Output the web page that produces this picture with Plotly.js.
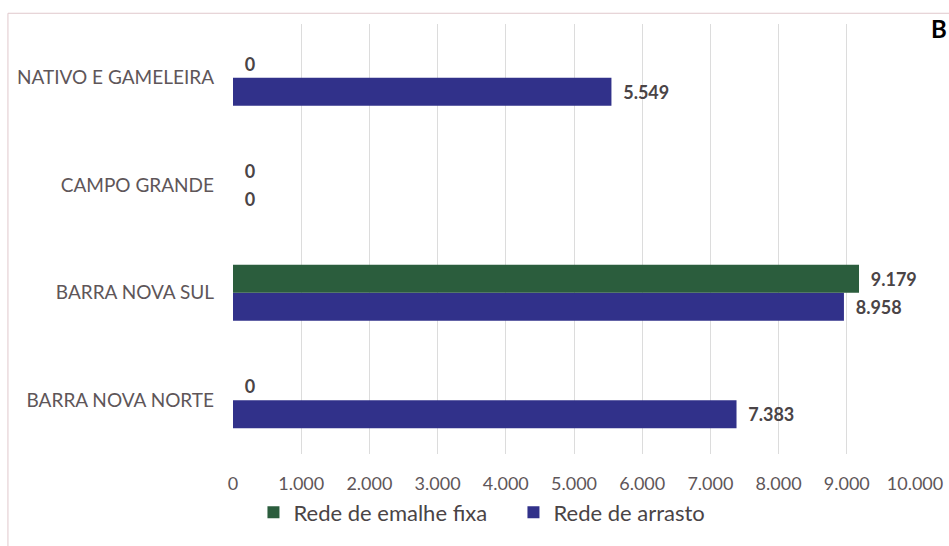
<!DOCTYPE html>
<html><head><meta charset="utf-8">
<script src="https://cdn.plot.ly/plotly-3.0.1.min.js"></script>
<style>body{margin:0;background:#fff}#chart{width:949px;height:546px}</style>
</head><body><div id="chart"></div>
<script>
const categories = ["BARRA NOVA NORTE", "BARRA NOVA SUL", "CAMPO GRANDE", "NATIVO E GAMELEIRA"];
const emalheFixa = [0, 9179, 0, 0];
const arrasto = [7383, 8958, 0, 5549];
const xTicks = [0,1000,2000,3000,4000,5000,6000,7000,8000,9000,10000];

const font = "Lato, 'Open Sans', sans-serif";
const labelFont = {color:'#4a4446', size:18, family:font, weight:'bold'};
const traces = [
  {type:'bar', orientation:'h', name:'Rede de arrasto', y:categories, x:arrasto,
   marker:{color:'#31318a', line:{width:0}},
   texttemplate:'\u00a0\u00a0%{x:,}', textposition:'outside', cliponaxis:false,
   textfont:labelFont},
  {type:'bar', orientation:'h', name:'Rede de emalhe fixa', y:categories, x:emalheFixa,
   marker:{color:'#2b5d3d', line:{width:0}},
   texttemplate:'\u00a0\u00a0%{x:,}', textposition:'outside', cliponaxis:false,
   textfont:labelFont}
];
const layout = {
  width:949, height:546,
  margin:{l:233, r:34, t:24, b:88},
  paper_bgcolor:'#fff', plot_bgcolor:'#fff',
  separators:',.',
  barmode:'group', bargap:0.48, bargroupgap:0,
  font:{family:font, color:'#5e5659', size:18},
  xaxis:{range:[0,10000], tickvals:xTicks, tickformat:',', showgrid:true, gridcolor:'#dcdcdc',
         zeroline:false, showline:false, ticks:'', ticklabelstandoff:17,
         tickfont:{size:18, color:'#5e5659'}},
  yaxis:{showgrid:false, zeroline:false, showline:false, ticks:'', ticklabelstandoff:18,
         tickfont:{size:19, color:'#5e5659'}},
  showlegend:true,
  legend:{orientation:'h', traceorder:'reversed', x:0.03, xanchor:'left', y:-0.136, yanchor:'middle',
          font:{size:22, color:'#4a4446'}, itemwidth:30, entrywidth:215, entrywidthmode:'pixels'},
  shapes:[{type:'rect', xref:'paper', yref:'paper', x0:-0.33, x1:1.2, y0:-0.3, y1:1.025,
           line:{color:'#e0c8cc', width:1}, fillcolor:'rgba(0,0,0,0)'}],
  annotations:[{text:'<b>B</b>', xref:'paper', yref:'paper', x:1.0, y:1.0, xanchor:'left', yanchor:'top',
                xshift:14, yshift:12, showarrow:false, font:{size:24, color:'#000', family:font}}]
};
Plotly.newPlot('chart', traces, layout, {displayModeBar:false});
</script></body></html>
